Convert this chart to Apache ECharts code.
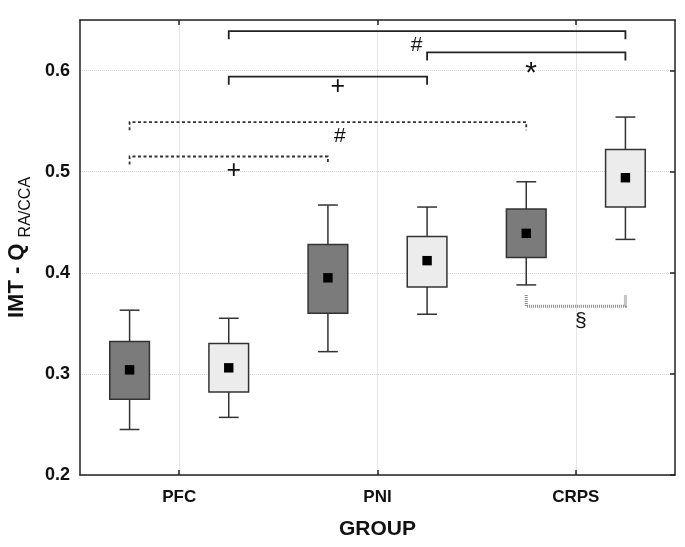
<!DOCTYPE html>
<html><head><meta charset="utf-8">
<script src="https://cdn.jsdelivr.net/npm/echarts@6/dist/echarts.min.js"></script>
<style>html,body{margin:0;padding:0;background:#fff}#c{width:685px;height:547px}</style>
</head><body><div id="c"></div>
<script>
// ---- data ----
const categories = ['PFC', 'PNI', 'CRPS'];
const categoryPos = [2, 6, 10];
const boxPos = [1, 3, 5, 7, 9, 11];
const boxShade = ['dark', 'light', 'dark', 'light', 'dark', 'light'];
const whiskerLow = [0.245, 0.257, 0.322, 0.359, 0.388, 0.433];
const boxLow = [0.275, 0.282, 0.360, 0.386, 0.415, 0.465];
const means = [0.304, 0.306, 0.395, 0.412, 0.439, 0.494];
const boxHigh = [0.332, 0.330, 0.428, 0.436, 0.463, 0.522];
const whiskerHigh = [0.363, 0.355, 0.467, 0.465, 0.490, 0.554];
const yTicks = [0.2, 0.3, 0.4, 0.5, 0.6];

const bracketFrom = [3, 7, 3, 1, 1, 9];
const bracketTo = [11, 11, 7, 9, 5, 11];
const bracketLevel = [0.639, 0.618, 0.594, 0.549, 0.515, 0.367];
const bracketEnd = [0.631, 0.610, 0.586, 0.541, 0.507, 0.378];
const bracketKind = ['solid', 'solid', 'solid', 'dashed', 'dashed', 'dotted'];
const markText = ['#', '*', '+', '#', '+', '§'];
const markX = [6.79, 9.1, 5.2, 5.24, 3.1, 10.1];
const markY = [0.625, 0.603, 0.584, 0.535, 0.501, 0.352];

// ---- chart ----
const FONT = '"Liberation Sans", Arial, sans-serif';
const chart = echarts.init(document.getElementById('c'), null, { renderer: 'canvas' });

const boxData = boxPos.map((x, i) => [x, whiskerLow[i], boxLow[i], means[i], boxHigh[i], whiskerHigh[i]]);
const bracketData = bracketFrom.map((x, i) => [x, bracketTo[i], bracketLevel[i], bracketEnd[i]]);

function renderBox(params, api) {
  const i = params.dataIndex;
  const x = api.value(0);
  const pWL = api.coord([x, api.value(1)]);
  const pQ1 = api.coord([x, api.value(2)]);
  const pM = api.coord([x, api.value(3)]);
  const pQ3 = api.coord([x, api.value(4)]);
  const pWH = api.coord([x, api.value(5)]);
  const bw = api.size([0.8, 0])[0];
  const cw = api.size([0.4, 0])[0];
  const ms = api.size([0.19, 0])[0];
  const stroke = { stroke: '#333', lineWidth: 1.5, fill: null };
  const cx = pM[0];
  return {
    type: 'group',
    children: [
      { type: 'line', shape: { x1: cx, y1: pQ3[1], x2: cx, y2: pWH[1] }, style: stroke },
      { type: 'line', shape: { x1: cx, y1: pQ1[1], x2: cx, y2: pWL[1] }, style: stroke },
      { type: 'line', shape: { x1: cx - cw / 2, y1: pWH[1], x2: cx + cw / 2, y2: pWH[1] }, style: stroke },
      { type: 'line', shape: { x1: cx - cw / 2, y1: pWL[1], x2: cx + cw / 2, y2: pWL[1] }, style: stroke },
      { type: 'rect', shape: { x: cx - bw / 2, y: pQ3[1], width: bw, height: pQ1[1] - pQ3[1] },
        style: { fill: boxShade[i] === 'dark' ? '#7b7b7b' : '#ececec', stroke: '#333', lineWidth: 1.5 } },
      { type: 'rect', shape: { x: cx - ms / 2, y: pM[1] - ms / 2, width: ms, height: ms }, style: { fill: '#000' } }
    ]
  };
}

function renderBracket(params, api) {
  const i = params.dataIndex;
  const a = api.coord([api.value(0), api.value(2)]);
  const b = api.coord([api.value(1), api.value(2)]);
  const aEnd = api.coord([api.value(0), api.value(3)]);
  const bEnd = api.coord([api.value(1), api.value(3)]);
  const kind = bracketKind[i];
  let style;
  if (kind === 'solid') style = { stroke: '#222', lineWidth: 1.8, fill: null };
  else if (kind === 'dashed') style = { stroke: '#333', lineWidth: 1.8, lineDash: [3, 2.5], fill: null };
  else style = { stroke: '#8a8a8a', lineWidth: 3, lineDash: [1, 1], fill: null };
  const m = api.coord([markX[i], markY[i]]);
  const t = markText[i];
  const size = t === '*' ? 30 : (t === '+' ? 25 : 21);
  return {
    type: 'group',
    children: [
      { type: 'polyline', shape: { points: [aEnd, a, b, bEnd] }, style: style },
      { type: 'text', x: m[0], y: m[1] + (t === '*' ? 6 : 0),
        style: { text: t, fill: '#111', align: 'center', verticalAlign: 'middle',
                 font: size + 'px ' + FONT } }
    ]
  };
}

const option = {
  animation: false,
  backgroundColor: '#fff',
  grid: { left: 80, right: 10, top: 20, bottom: 72, show: false, containLabel: false, outerBoundsMode: 'none' },
  xAxis: [
    {
      type: 'value', min: 0, max: 12, interval: 1, position: 'bottom',
      axisLine: { onZero: false, lineStyle: { color: '#222', width: 1.5 } },
      axisTick: { show: true, inside: true, length: 5, customValues: categoryPos, lineStyle: { color: '#222', width: 1.5 } },
      axisLabel: {
        customValues: categoryPos, margin: 14,
        formatter: v => { const k = categoryPos.indexOf(Math.round(v)); return k >= 0 ? categories[k] : ''; },
        fontFamily: FONT, fontWeight: 'bold', fontSize: 17, color: '#111'
      },
      splitLine: { show: true, lineStyle: { color: '#e6e6e6', width: 1 } },
      name: 'GROUP', nameLocation: 'middle', nameGap: 44,
      nameTextStyle: { fontFamily: FONT, fontWeight: 'bold', fontSize: 21, color: '#111' }
    },
    {
      type: 'value', min: 0, max: 12, interval: 1, position: 'top',
      axisLine: { onZero: false, lineStyle: { color: '#222', width: 1.5 } },
      axisTick: { show: true, inside: true, length: 5, customValues: categoryPos, lineStyle: { color: '#222', width: 1.5 } },
      axisLabel: { show: false },
      splitLine: { show: false }
    }
  ],
  yAxis: [
    {
      type: 'value', min: 0.2, max: 0.65, interval: 0.1, position: 'left',
      axisLine: { show: true, onZero: false, lineStyle: { color: '#222', width: 1.5 } },
      axisTick: { show: false },
      axisLabel: {
        customValues: yTicks, margin: 10,
        formatter: v => v.toFixed(1),
        fontFamily: FONT, fontWeight: 'bold', fontSize: 18, color: '#111'
      },
      splitLine: { show: true, lineStyle: { color: '#d6d6d6', type: 'dotted', width: 1 } },
      name: '{a|IMT - Q }{b|RA/CCA}', nameLocation: 'middle', nameGap: 46,
      nameTextStyle: {
        color: '#111',
        rich: {
          a: { fontFamily: FONT, fontWeight: 'bold', fontSize: 22, color: '#111', verticalAlign: 'bottom', padding: [0, 0, 6, 0] },
          b: { fontFamily: FONT, fontWeight: 'normal', fontSize: 16, color: '#111', verticalAlign: 'bottom' }
        }
      }
    },
    {
      type: 'value', min: 0.2, max: 0.65, interval: 0.1, position: 'right',
      axisLine: { show: true, onZero: false, lineStyle: { color: '#222', width: 1.5 } },
      axisTick: { show: true, inside: true, length: 5, customValues: yTicks, lineStyle: { color: '#222', width: 1.5 } },
      axisLabel: { show: false },
      splitLine: { show: false }
    }
  ],
  series: [
    { type: 'custom', name: 'boxes', xAxisIndex: 0, yAxisIndex: 0, renderItem: renderBox,
      encode: { x: 0, y: [1, 2, 3, 4, 5] }, data: boxData, z: 3 },
    { type: 'custom', name: 'brackets', xAxisIndex: 0, yAxisIndex: 0, renderItem: renderBracket,
      encode: { x: [0, 1], y: [2, 3] }, data: bracketData, z: 4, clip: false }
  ]
};
chart.setOption(option);
</script>
</body></html>
